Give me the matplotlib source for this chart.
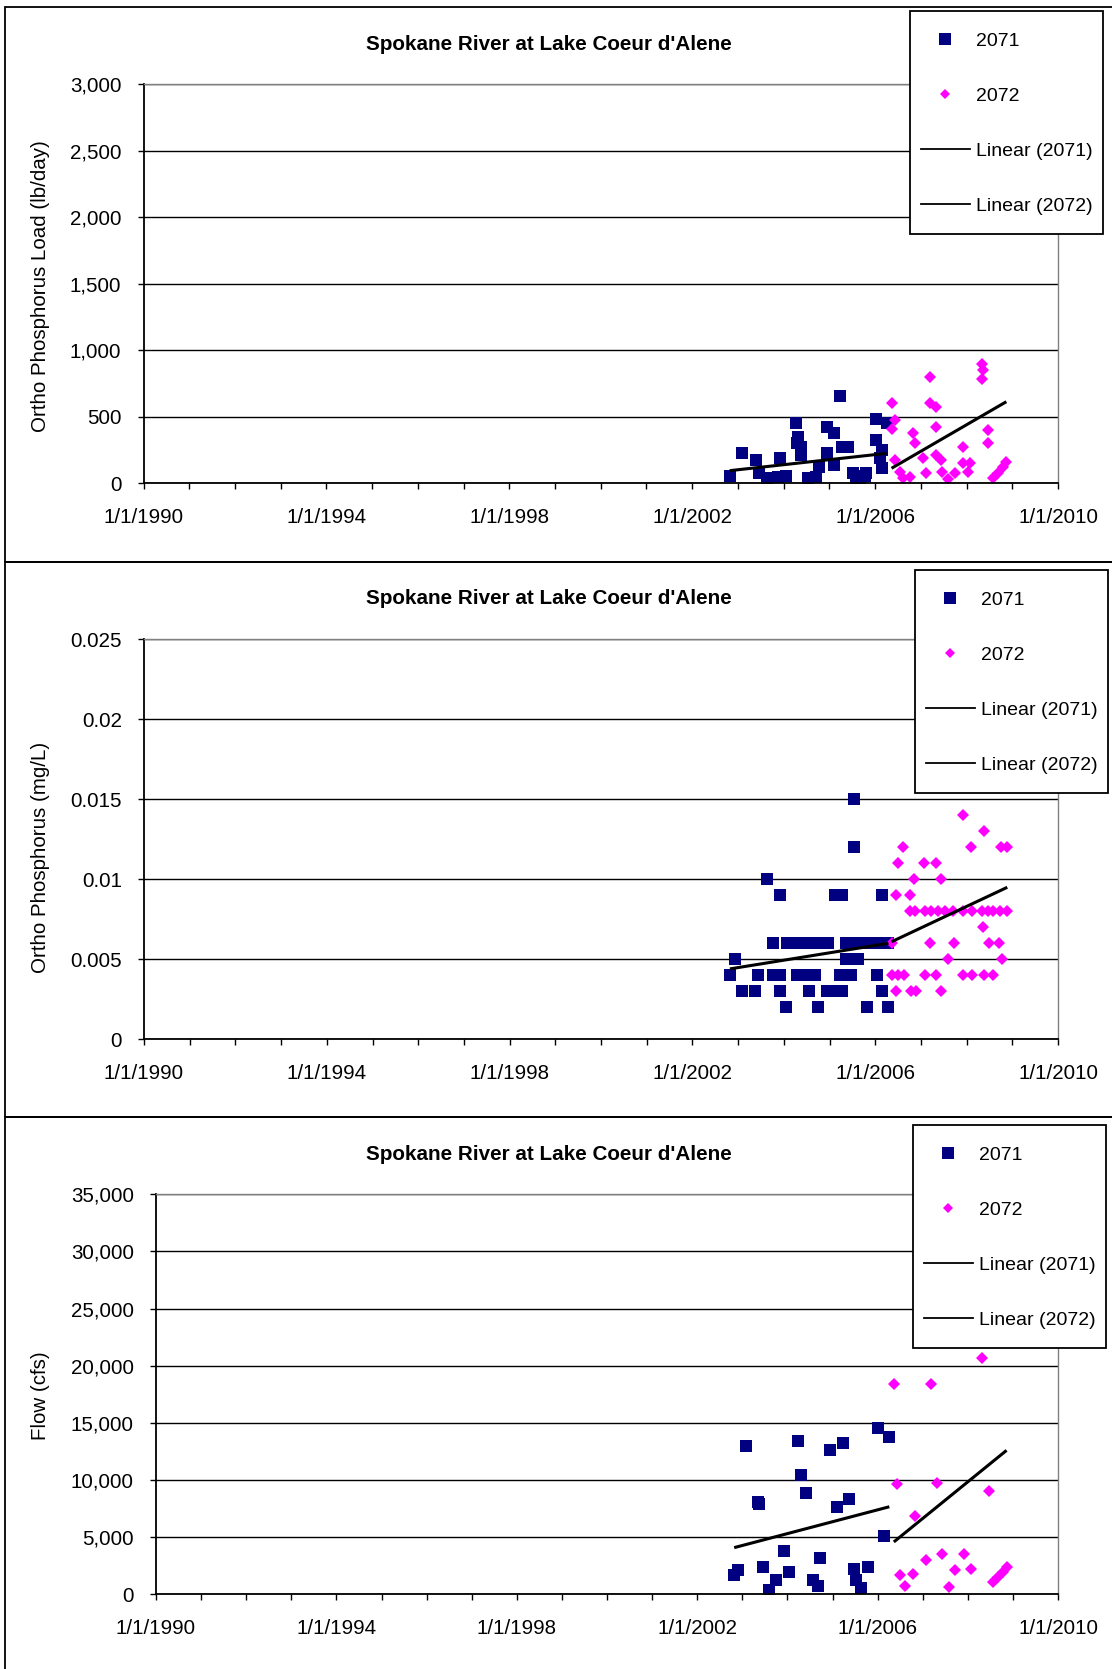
import matplotlib
matplotlib.use("Agg")
import matplotlib.pyplot as plt
from matplotlib.lines import Line2D
from matplotlib.legend_handler import HandlerLine2D
from matplotlib.patches import Rectangle
import numpy as np

plt.rcParams['font.family'] = ['Liberation Sans', 'DejaVu Sans']

# Sample dates as decimal years, read per station series
load_71_x = [2002.82, 2003.10, 2003.39, 2003.46, 2003.64, 2003.92, 2003.88, 2004.05,
             2004.26, 2004.32, 2004.30, 2004.39, 2004.39, 2004.53, 2004.70, 2004.78,
             2004.94, 2005.10, 2004.94, 2005.10, 2005.24, 2005.27, 2005.40, 2005.52,
             2005.59, 2005.67, 2005.77, 2005.81, 2006.03, 2006.03, 2006.10, 2006.14,
             2006.14, 2006.25]
load_71_y = [55, 225, 175, 75, 38, 188, 50, 55,
             450, 350, 300, 275, 213, 38, 50, 125,
             420, 380, 225, 138, 655, 275, 275, 75,
             38, 30, 58, 75, 483, 325, 188, 250,
             113, 455]
load_72_x = [2006.36, 2006.43, 2006.36, 2006.43, 2006.54, 2006.61, 2006.76, 2006.83,
             2006.87, 2007.05, 2007.12, 2007.20, 2007.20, 2007.34, 2007.34, 2007.34,
             2007.45, 2007.47, 2007.60, 2007.74, 2007.92, 2007.92, 2008.03, 2008.07,
             2008.33, 2008.36, 2008.33, 2008.47, 2008.47, 2008.58, 2008.69, 2008.80,
             2008.87]
load_72_y = [605, 475, 405, 175, 88, 38, 50, 375,
             300, 188, 75, 800, 605, 575, 420, 213,
             175, 88, 30, 75, 275, 150, 88, 150,
             900, 850, 780, 400, 305, 38, 75, 125,
             163]

conc_71_x = [2005.54, 2005.53, 2003.63, 2003.92, 2005.12, 2005.27, 2006.14,
             2003.77, 2004.06, 2004.24, 2004.43, 2004.61, 2004.79, 2004.97, 2005.37,
             2005.56, 2005.74, 2005.92, 2006.10, 2006.29,
             2002.93, 2005.37, 2005.63,
             2002.82, 2003.44, 2003.77, 2003.92, 2004.28, 2004.43, 2004.68, 2005.23,
             2005.48, 2006.03,
             2003.08, 2003.37, 2003.92, 2004.56, 2004.94, 2005.12, 2005.27, 2006.14,
             2004.05, 2004.75, 2005.81, 2006.27]
conc_71_y = [0.015, 0.012, 0.010, 0.009, 0.009, 0.009, 0.009,
             0.006, 0.006, 0.006, 0.006, 0.006, 0.006, 0.006, 0.006,
             0.006, 0.006, 0.006, 0.006, 0.006,
             0.005, 0.005, 0.005,
             0.004, 0.004, 0.004, 0.004, 0.004, 0.004, 0.004, 0.004,
             0.004, 0.004,
             0.003, 0.003, 0.003, 0.003, 0.003, 0.003, 0.003, 0.003,
             0.002, 0.002, 0.002, 0.002]
conc_72_x = [2007.93, 2008.38, 2006.61, 2008.09, 2008.76, 2008.89,
             2006.50, 2007.07, 2007.34, 2006.85, 2007.44, 2006.45, 2006.77,
             2006.76, 2006.87, 2007.09, 2007.23, 2007.38, 2007.52, 2007.71,
             2007.93, 2008.11, 2008.33, 2008.47, 2008.58, 2008.73, 2008.89,
             2008.35,
             2006.36, 2007.20, 2007.73, 2008.49, 2008.71,
             2007.60, 2008.78,
             2006.36, 2006.50, 2006.63, 2007.09, 2007.34, 2007.93, 2008.11,
             2008.38, 2008.58,
             2006.45, 2006.78, 2006.89, 2007.44]
conc_72_y = [0.014, 0.013, 0.012, 0.012, 0.012, 0.012,
             0.011, 0.011, 0.011, 0.010, 0.010, 0.009, 0.009,
             0.008, 0.008, 0.008, 0.008, 0.008, 0.008, 0.008,
             0.008, 0.008, 0.008, 0.008, 0.008, 0.008, 0.008,
             0.007,
             0.006, 0.006, 0.006, 0.006, 0.006,
             0.005, 0.005,
             0.004, 0.004, 0.004, 0.004, 0.004, 0.004, 0.004,
             0.004, 0.004,
             0.003, 0.003, 0.003, 0.003]

flow_71_x = [2002.82, 2002.90, 2003.08, 2003.35, 2003.38, 2003.47, 2003.60, 2003.75,
             2003.92, 2004.03, 2004.24, 2004.30, 2004.41, 2004.56, 2004.67, 2004.72,
             2004.94, 2005.09, 2005.24, 2005.37, 2005.47, 2005.53, 2005.64, 2005.79,
             2006.01, 2006.26, 2006.14]
flow_71_y = [1620, 2060, 13000, 8080, 7880, 2350, 350, 1240,
             3760, 1910, 13380, 10380, 8880, 1240, 680, 3180,
             12640, 7590, 13230, 8290, 2210, 1240, 530, 2350,
             14550, 13760, 5090]
flow_72_x = [2006.36, 2006.43, 2006.49, 2006.61, 2006.78, 2006.84, 2007.07, 2007.18,
             2007.32, 2007.42, 2007.59, 2007.72, 2007.91, 2008.08, 2008.32, 2008.47,
             2008.56, 2008.67, 2008.77, 2008.86]
flow_72_y = [18430, 9610, 1620, 740, 1760, 6820, 2940, 18430,
             9700, 3470, 590, 2060, 3530, 2210, 20640, 9060,
             1030, 1470, 1910, 2350]

# Linear trend endpoints (start, end) for each series
load_71_trend = [95, 225]
load_72_trend = [113, 613]
conc_71_trend = [0.0044, 0.0060]
conc_72_trend = [0.0061, 0.0095]
flow_71_trend = [4060, 7640]
flow_72_trend = [4560, 12580]

x_ticks = [1990, 1994, 1998, 2002, 2006, 2010]
x_ticklabels = ['1/1/1990', '1/1/1994', '1/1/1998', '1/1/2002', '1/1/2006', '1/1/2010']

load_ticks = [0, 500, 1000, 1500, 2000, 2500, 3000]
load_ticklabels = ['0', '500', '1,000', '1,500', '2,000', '2,500', '3,000']
conc_ticks = [0, 0.005, 0.01, 0.015, 0.02, 0.025]
conc_ticklabels = ['0', '0.005', '0.01', '0.015', '0.02', '0.025']
flow_ticks = [0, 5000, 10000, 15000, 20000, 25000, 30000, 35000]
flow_ticklabels = ['0', '5,000', '10,000', '15,000', '20,000', '25,000', '30,000', '35,000']

title = "Spokane River at Lake Coeur d'Alene"
NAVY = '#000080'
MAGENTA = '#FF00FF'

W, H = 1112, 1669
fig = plt.figure(figsize=(W / 100, H / 100), dpi=100)


def fx(px):
    return px / W


def fy(py):
    return 1 - py / H


class CenteredLine(HandlerLine2D):
    # keep the legend symbol level with the middle of the label text
    def create_artists(self, legend, orig_handle, xdescent, ydescent,
                       width, height, fontsize, trans):
        return super().create_artists(legend, orig_handle, xdescent,
                                      height - 0.7 * fontsize, width, height,
                                      fontsize, trans)


panels = [
    # axes box (left, top, right, bottom) in pixels, frame top/bottom, legend corner, ylabel y
    dict(box=(143.5, 84, 1058, 483.3), frame=(7, 561.7), legend=(910, 11), label_y=286,
         title_y=44, ylabel='Ortho Phosphorus Load (lb/day)',
         x71=load_71_x, y71=load_71_y, x72=load_72_x, y72=load_72_y,
         t71=load_71_trend, t72=load_72_trend,
         ticks=load_ticks, ticklabels=load_ticklabels),
    dict(box=(144, 639.3, 1058, 1039.3), frame=(561.7, 1117), legend=(915, 570), label_y=857,
         title_y=599, ylabel='Ortho Phosphorus (mg/L)',
         x71=conc_71_x, y71=conc_71_y, x72=conc_72_x, y72=conc_72_y,
         t71=conc_71_trend, t72=conc_72_trend,
         ticks=conc_ticks, ticklabels=conc_ticklabels),
    dict(box=(156, 1194.3, 1058, 1594), frame=(1117, 1690), legend=(913, 1125), label_y=1396,
         title_y=1154, ylabel='Flow (cfs)',
         x71=flow_71_x, y71=flow_71_y, x72=flow_72_x, y72=flow_72_y,
         t71=flow_71_trend, t72=flow_72_trend,
         ticks=flow_ticks, ticklabels=flow_ticklabels),
]

for p in panels:
    # chart frame
    top, bottom = p['frame']
    fig.patches.append(Rectangle((fx(5), fy(bottom)), fx(1130), (bottom - top) / H,
                                 transform=fig.transFigure, fill=False,
                                 edgecolor='black', lw=1.3, zorder=0))

    l, t, r, b = p['box']
    ax = fig.add_axes([fx(l), fy(b), (r - l) / W, (b - t) / H])

    ax.plot(p['x71'], p['y71'], ls='none', marker='s', ms=9, color=NAVY,
            mec=NAVY, mew=0, zorder=2)
    ax.plot(p['x72'], p['y72'], ls='none', marker='D', ms=6.3, color=MAGENTA,
            mec=MAGENTA, mew=0, zorder=2)
    ax.plot([min(p['x71']), max(p['x71'])], p['t71'], color='black', lw=2.2,
            solid_capstyle='butt', zorder=3)
    ax.plot([min(p['x72']), max(p['x72'])], p['t72'], color='black', lw=2.2,
            solid_capstyle='butt', zorder=3)

    ax.set_xlim(1990, 2010)
    ax.set_xticks(x_ticks)
    ax.set_xticklabels(x_ticklabels)
    ax.set_xticks(np.arange(1990, 2011), minor=True)
    ax.set_ylim(p['ticks'][0], p['ticks'][-1])
    ax.set_yticks(p['ticks'])
    ax.set_yticklabels(p['ticklabels'])

    ax.tick_params(axis='both', which='both', direction='out', length=4,
                   width=1.0, color='black', labelsize=14.8)
    ax.tick_params(axis='y', pad=12)
    ax.tick_params(axis='x', pad=14)
    ax.yaxis.grid(True, color='black', lw=1.0)

    for side in ('left', 'bottom'):
        ax.spines[side].set_color('black')
        ax.spines[side].set_linewidth(1.3)
    for side in ('top', 'right'):
        ax.spines[side].set_color('#808080')
        ax.spines[side].set_linewidth(1.0)

    fig.text(fx(548.5), fy(p['title_y']), title, ha='center', va='center',
             fontsize=14.9, fontweight='bold')
    fig.text(fx(40.5), fy(p['label_y']), p['ylabel'], rotation=90,
             ha='center', va='center', fontsize=14.8)

    handles = [
        Line2D([], [], ls='none', marker='s', ms=8, color=NAVY, mew=0),
        Line2D([], [], ls='none', marker='D', ms=5.5, color=MAGENTA, mew=0),
        Line2D([], [], color='black', lw=1.3),
        Line2D([], [], color='black', lw=1.3),
    ]
    labels = ['2071', '2072', 'Linear (2071)', 'Linear (2072)']
    lx, ly = p['legend']
    leg = ax.legend(handles, labels, loc='upper left',
                    bbox_to_anchor=(fx(lx), fy(ly)), bbox_transform=fig.transFigure,
                    borderaxespad=0, fontsize=14, labelspacing=1.03,
                    borderpad=0.57, handlelength=2.5, handleheight=2.4,
                    handletextpad=0.3, fancybox=False, framealpha=1,
                    edgecolor='black', handler_map={Line2D: CenteredLine()})
    leg.get_frame().set_linewidth(1.3)

fig.savefig('out.png', dpi=100)
